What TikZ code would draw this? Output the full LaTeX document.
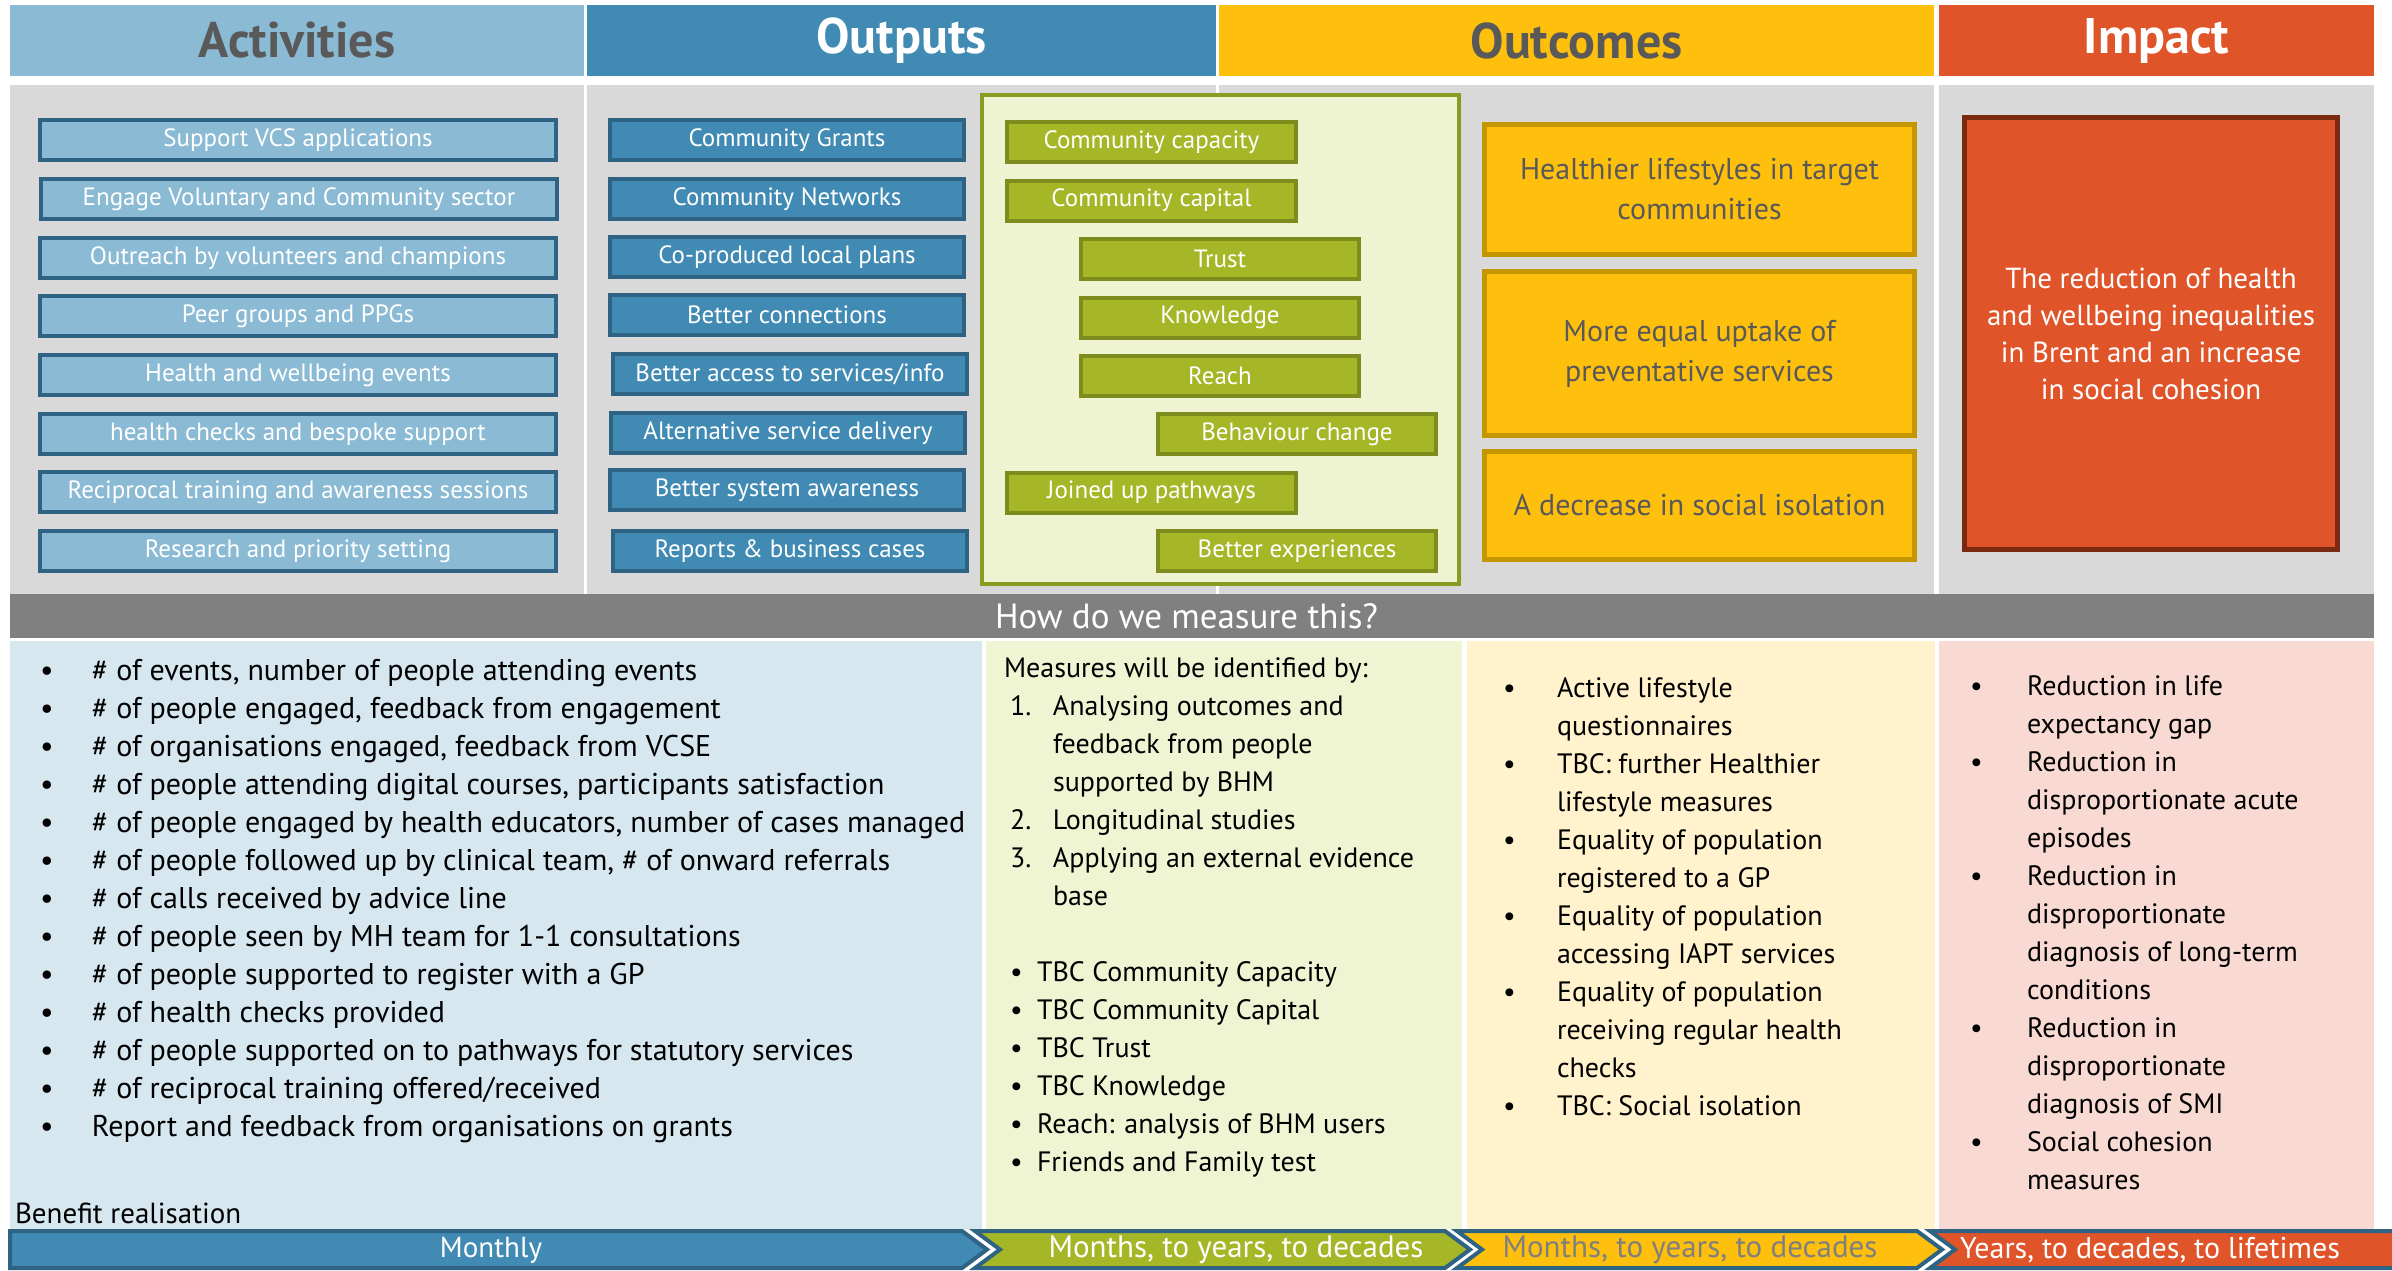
\documentclass[tikz,border=0pt]{standalone}
\usepackage{fontspec}
\setmainfont{PT Sans}

\definecolor{cDark}{HTML}{595959}
\definecolor{cActH}{HTML}{8BBAD4}
\definecolor{cOutH}{HTML}{418AB3}
\definecolor{cOcmH}{HTML}{FEC00D}
\definecolor{cImpH}{HTML}{E0542A}
\definecolor{cGray}{HTML}{D9D9D9}
\definecolor{cBlueLine}{HTML}{2F6384}
\definecolor{cGreen}{HTML}{A5B627}
\definecolor{cGreenLine}{HTML}{7E8C1D}
\definecolor{cPanelLine}{HTML}{8A9A22}
\definecolor{cPanelFill}{HTML}{EEF3D2}
\definecolor{cYelLine}{HTML}{C49600}
\definecolor{cRedLine}{HTML}{7B2A12}
\definecolor{cBar}{HTML}{808080}
\definecolor{cBgBlue}{HTML}{D6E7F0}
\definecolor{cBgGreen}{HTML}{EFF4D3}
\definecolor{cBgYel}{HTML}{FFF2CC}
\definecolor{cBgPink}{HTML}{F8DAD3}
\definecolor{cChevText}{HTML}{7F7F7F}

% bullet with a fixed indent, and a continuation line with the same indent
\newcommand{\bu}[2]{\makebox[#1][l]{\textbullet}#2}
\newcommand{\ct}[2]{\hspace*{#1}#2}

\begin{document}
\begin{tikzpicture}[x=1pt,y=-1pt,
  every node/.style={inner sep=0pt, outer sep=0pt},
  hdr/.style={minimum height=71, font=\fontsize{50}{56}\selectfont\bfseries},
  actbox/.style={draw=cBlueLine, line width=4, fill=cActH, text=white,
    minimum width=516, minimum height=40, font=\fontsize{25}{30}\selectfont},
  outbox/.style={draw=cBlueLine, line width=4, fill=cOutH, text=white,
    minimum width=354, minimum height=40, font=\fontsize{25}{30}\selectfont},
  grnbox/.style={draw=cGreenLine, line width=4, fill=cGreen, text=white,
    minimum height=40, font=\fontsize{25}{30}\selectfont},
  ocmbox/.style={draw=cYelLine, line width=5, fill=cOcmH, text=cDark,
    minimum width=430, align=center, font=\fontsize{30}{40}\selectfont},
  listtext/.style={anchor=north west, align=left, text=black,
    font=\fontsize{28}{38}\selectfont},
  chev/.style={draw=cBlueLine, line width=4, line join=miter},
  chevtext/.style={font=\fontsize{31}{34}\selectfont}
]
\useasboundingbox (0,0) rectangle (2392,1270);
\fill[white] (0,0) rectangle (2392,1270);

% column headers
\node[hdr, fill=cActH, text=cDark, minimum width=574] (hAct) at (297,40.5) {Activities};
\node[hdr, fill=cOutH, text=white, minimum width=629] (hOut) at (901.5,40.5) {Outputs};
\node[hdr, fill=cOcmH, text=cDark, minimum width=715] (hOcm) at (1576.5,40.5) {Outcomes};
\node[hdr, fill=cImpH, text=white, minimum width=435] (hImp) at (2156.5,40.5) {Impact};

% grey column backgrounds
\fill[cGray] (10,85) rectangle (584,594);
\fill[cGray] (587,85) rectangle (1216,594);
\fill[cGray] (1219,85) rectangle (1934,594);
\fill[cGray] (1939,85) rectangle (2374,594);

% activities
\node[actbox] (a1) at (298,140) {Support VCS applications};
\node[actbox] (a2) at (299,199) {Engage Voluntary and Community sector};
\node[actbox] (a3) at (298,258) {Outreach by volunteers and champions};
\node[actbox] (a4) at (298,316) {Peer groups and PPGs};
\node[actbox] (a5) at (298,375) {Health and wellbeing events};
\node[actbox] (a6) at (298,434) {health checks and bespoke support};
\node[actbox] (a7) at (298,492) {Reciprocal training and awareness sessions};
\node[actbox] (a8) at (298,551) {Research and priority setting};

% outputs
\node[outbox] (o1) at (787,140) {Community Grants};
\node[outbox] (o2) at (787,199) {Community Networks};
\node[outbox] (o3) at (787,257) {Co-produced local plans};
\node[outbox] (o4) at (787,315) {Better connections};
\node[outbox] (o5) at (790,374) {Better access to services/info};
\node[outbox] (o6) at (788,433) {Alternative service delivery};
\node[outbox] (o7) at (787,490) {Better system awareness};
\node[outbox] (o8) at (790,551) {Reports \& business cases};

% intermediate outcomes panel
\node[draw=cPanelLine, line width=4, fill=cPanelFill, minimum width=477,
  minimum height=489] (gpanel) at (1220.5,339.5) {};
\node[grnbox, minimum width=289] (g1) at (1151.5,142) {Community capacity};
\node[grnbox, minimum width=289] (g2) at (1151.5,200.5) {Community capital};
\node[grnbox, minimum width=278] (g3) at (1220,259) {Trust};
\node[grnbox, minimum width=278] (g4) at (1220,317.5) {Knowledge};
\node[grnbox, minimum width=278] (g5) at (1220,376) {Reach};
\node[grnbox, minimum width=278] (g6) at (1297,434) {Behaviour change};
\node[grnbox, minimum width=289] (g7) at (1151.5,492.5) {Joined up pathways};
\node[grnbox, minimum width=278] (g8) at (1297,551) {Better experiences};

% outcomes
\node[ocmbox, minimum height=130] (c1) at (1699.5,189.5) {Healthier lifestyles in target\\communities};
\node[ocmbox, minimum height=164] (c2) at (1699.5,353.5) {More equal uptake of\\preventative services};
\node[ocmbox, minimum height=108] (c3) at (1699.5,505.5) {A decrease in social isolation};

% impact
\node[draw=cRedLine, line width=5, fill=cImpH, text=white, minimum width=373,
  minimum height=432, align=center, font=\fontsize{29}{37}\selectfont] (imp) at (2151,333.5)
  {The reduction of health\\and wellbeing inequalities\\in Brent and an increase\\in social cohesion};

% measurement bar
\node[fill=cBar, minimum width=2364, minimum height=44, anchor=north west] (bar) at (10,594) {};
\node[anchor=west, text=white, font=\fontsize{35}{40}\selectfont] (barT) at (995,616) {How do we measure this?};

% measurement panels
\fill[cBgBlue] (10,641) rectangle (982,1229);
\fill[cBgGreen] (986,641) rectangle (1462,1229);
\fill[cBgYel] (1467,641) rectangle (1935,1229);
\fill[cBgPink] (1939,641) rectangle (2374,1229);

\node[listtext, font=\fontsize{30}{38}\selectfont] (mAct) at (40,653.4) {\strut
\bu{52pt}{\# of events, number of people attending events}\\
\bu{52pt}{\# of people engaged, feedback from engagement}\\
\bu{52pt}{\# of organisations engaged, feedback from VCSE}\\
\bu{52pt}{\# of people attending digital courses, participants satisfaction}\\
\bu{52pt}{\# of people engaged by health educators, number of cases managed}\\
\bu{52pt}{\# of people followed up by clinical team, \# of onward referrals}\\
\bu{52pt}{\# of calls received by advice line}\\
\bu{52pt}{\# of people seen by MH team for 1-1 consultations}\\
\bu{52pt}{\# of people supported to register with a GP}\\
\bu{52pt}{\# of health checks provided}\\
\bu{52pt}{\# of people supported on to pathways for statutory services}\\
\bu{52pt}{\# of reciprocal training offered/received}\\
\bu{52pt}{Report and feedback from organisations on grants}};

\node[listtext] (mOut) at (1004,650.4) {\strut
Measures will be identified by:\\
\ct{6pt}{\makebox[43pt][l]{1.}Analysing outcomes and}\\
\ct{49pt}{feedback from people}\\
\ct{49pt}{supported by BHM}\\
\ct{6pt}{\makebox[43pt][l]{2.}Longitudinal studies}\\
\ct{6pt}{\makebox[43pt][l]{3.}Applying an external evidence}\\
\ct{49pt}{base}\\
\strut\\
\ct{6pt}{\bu{27pt}{TBC Community Capacity}}\\
\ct{6pt}{\bu{27pt}{TBC Community Capital}}\\
\ct{6pt}{\bu{27pt}{TBC Trust}}\\
\ct{6pt}{\bu{27pt}{TBC Knowledge}}\\
\ct{6pt}{\bu{27pt}{Reach: analysis of BHM users}}\\
\ct{6pt}{\bu{27pt}{Friends and Family test}}};

\node[listtext] (mOcm) at (1503,670.4) {\strut
\bu{54pt}{Active lifestyle}\\
\ct{54pt}{questionnaires}\\
\bu{54pt}{TBC: further Healthier}\\
\ct{54pt}{lifestyle measures}\\
\bu{54pt}{Equality of population}\\
\ct{54pt}{registered to a GP}\\
\bu{54pt}{Equality of population}\\
\ct{54pt}{accessing IAPT services}\\
\bu{54pt}{Equality of population}\\
\ct{54pt}{receiving regular health}\\
\ct{54pt}{checks}\\
\bu{54pt}{TBC: Social isolation}};

\node[listtext] (mImp) at (1970,668.4) {\strut
\bu{57pt}{Reduction in life}\\
\ct{57pt}{expectancy gap}\\
\bu{57pt}{Reduction in}\\
\ct{57pt}{disproportionate acute}\\
\ct{57pt}{episodes}\\
\bu{57pt}{Reduction in}\\
\ct{57pt}{disproportionate}\\
\ct{57pt}{diagnosis of long-term}\\
\ct{57pt}{conditions}\\
\bu{57pt}{Reduction in}\\
\ct{57pt}{disproportionate}\\
\ct{57pt}{diagnosis of SMI}\\
\bu{57pt}{Social cohesion}\\
\ct{57pt}{measures}};

\node[anchor=west, text=black, font=\fontsize{29}{32}\selectfont] (benefit) at (15,1213) {Benefit realisation};

% benefit realisation timeline
\filldraw[chev, fill=cOutH] (10,1231) -- (962,1231) -- (987,1249.5) -- (962,1268) -- (10,1268) -- cycle;
\filldraw[chev, fill=cGreen] (975,1231) -- (1445,1231) -- (1470,1249.5) -- (1445,1268) -- (975,1268) -- (1000,1249.5) -- cycle;
\filldraw[chev, fill=cOcmH] (1457,1231) -- (1917,1231) -- (1942,1249.5) -- (1917,1268) -- (1457,1268) -- (1482,1249.5) -- cycle;
\filldraw[chev, fill=cImpH] (1930,1231) -- (2394,1231) -- (2394,1268) -- (1930,1268) -- (1955,1249.5) -- cycle;
\node[chevtext, font=\fontsize{29}{34}\selectfont, text=white] (t1) at (491,1250) {Monthly};
\node[chevtext, text=white] (t2) at (1236,1250) {Months, to years, to decades};
\node[chevtext, text=cChevText] (t3) at (1690,1250) {Months, to years, to decades};
\node[chevtext, font=\fontsize{30}{34}\selectfont, text=white] (t4) at (2150,1250) {Years, to decades, to lifetimes};
\end{tikzpicture}
\end{document}
